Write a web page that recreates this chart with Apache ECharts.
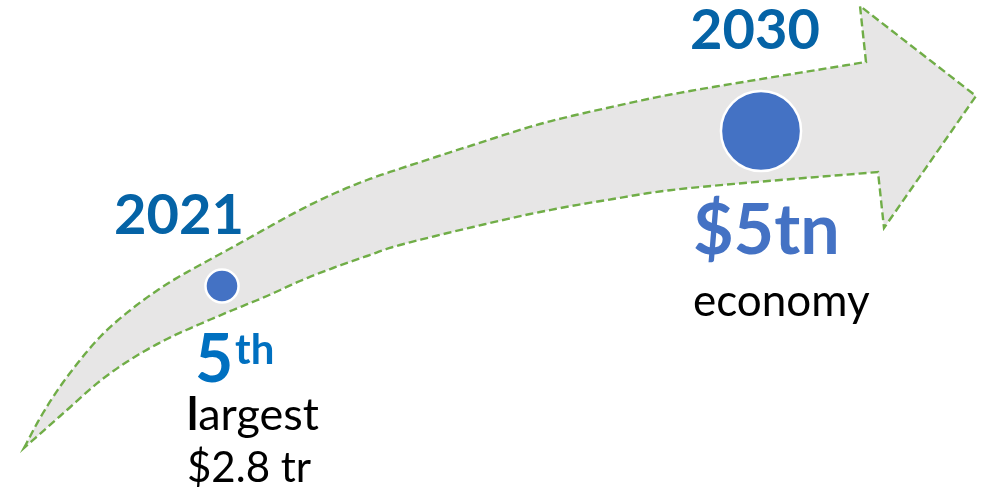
<!DOCTYPE html>
<html>
<head>
<meta charset="utf-8">
<script src="https://cdn.jsdelivr.net/npm/echarts@6/dist/echarts.min.js"></script>
<style>
html,body{margin:0;padding:0;background:#fff;}
#main{width:989px;height:490px;}
</style>
</head>
<body>
<div id="main"></div>
<script>
// ---- data ----
const years = [2021, 2030];
const gdpTrillion = [2.8, 5];
const yearLabels = ['2021', '2030'];
const headlines = ['5', '$5tn'];
const headlineSup = ['th', ''];
const captionLines = [['largest', '$2.8 tr'], ['economy']];

// ---- arrow decoration (pixel outline) ----
const upperEdge = [[24,448],[43,413],[67,377],[100,337],[133,308],[167,284],[200,265],[233,247],[267,228],[300,210],[333,194],[367,180],[405,167],[473,145],[540,124],[607,108],[690,91],[866,62]];
const lowerEdge = [[24,448],[67,410],[100,381],[133,358],[167,339],[200,324],[233,310],[267,296],[300,281],[333,268],[367,256],[400,245],[473,227],[540,212],[607,200],[690,188],[878,172]];
const headPts = [[860,6],[976,96],[884,228]];

function crSample(pts, steps) {
  const out = [pts[0].slice()];
  for (let i = 0; i < pts.length - 1; i++) {
    const p0 = pts[Math.max(i - 1, 0)], p1 = pts[i], p2 = pts[i + 1], p3 = pts[Math.min(i + 2, pts.length - 1)];
    const c1 = [p1[0] + (p2[0] - p0[0]) / 6, p1[1] + (p2[1] - p0[1]) / 6];
    const c2 = [p2[0] - (p3[0] - p1[0]) / 6, p2[1] - (p3[1] - p1[1]) / 6];
    for (let s = 1; s <= steps; s++) {
      const t = s / steps, u = 1 - t;
      const a = u * u * u, b = 3 * u * u * t, c = 3 * u * t * t, d = t * t * t;
      out.push([a * p1[0] + b * c1[0] + c * c2[0] + d * p2[0], a * p1[1] + b * c1[1] + c * c2[1] + d * p2[1]]);
    }
  }
  return out;
}
const arrowPoints = crSample(upperEdge, 12)
  .concat(headPts)
  .concat(crSample(lowerEdge.slice().reverse(), 12));

const chart = echarts.init(document.getElementById('main'), null, {renderer: 'canvas'});
const FONT = 'Lato, "Open Sans", sans-serif';

chart.setOption({
  animation: false,
  backgroundColor: '#ffffff',
  grid: {left: 0, right: 0, top: 0, bottom: 0},
  xAxis: {type: 'value', min: 2017.2931, max: 2033.807, show: false},
  yAxis: {type: 'value', min: -0.0955, max: 6.8594, show: false},
  series: [{
    type: 'scatter', z: 5,
    data: years.map((y, i) => [y, gdpTrillion[i]]),
    symbol: 'circle',
    symbolSize: v => 21.4 * (v[1] - 1.255),
    itemStyle: {color: '#4472C4', borderColor: '#ffffff', borderWidth: 2.5, opacity: 1},
    label: {show: false}
  }]
});

// text placed relative to each data point
const pts = years.map((y, i) => chart.convertToPixel({seriesIndex: 0}, [y, gdpTrillion[i]]));
const g = [{
  type: 'polygon', z: -1,
  shape: {points: arrowPoints},
  style: {fill: '#E7E6E6', stroke: '#70AD47', lineWidth: 2.4, lineDash: [8, 4]}
}];
// 2021
const p0 = pts[0];
g.push({type: 'text', x: p0[0] - 43, y: p0[1] - 70, style: {text: yearLabels[0], font: 'bold 56px ' + FONT, fill: '#0563A6', align: 'center', verticalAlign: 'middle'}});
g.push({type: 'text', x: p0[0] - 27, y: p0[1] + 75, style: {text: headlines[0], font: 'bold 66px ' + FONT, fill: '#0070C0', align: 'left', verticalAlign: 'middle'}});
g.push({type: 'text', x: p0[0] + 13, y: p0[1] + 64, style: {text: headlineSup[0], font: 'bold 42px ' + FONT, fill: '#0070C0', align: 'left', verticalAlign: 'middle'}});
g.push({type: 'text', x: p0[0] - 35, y: p0[1] + 129, style: {
  text: '{b|' + captionLines[0][0].charAt(0) + '}{r|' + captionLines[0][0].slice(1) + '}',
  rich: {b: {font: 'bold 45px ' + FONT, fill: '#000'}, r: {font: '45px ' + FONT, fill: '#000'}},
  align: 'left', verticalAlign: 'middle'}});
g.push({type: 'text', x: p0[0] - 35, y: p0[1] + 182, style: {text: captionLines[0][1], font: '42px ' + FONT, fill: '#000', align: 'left', verticalAlign: 'middle'}});
// 2030
const p1 = pts[1];
g.push({type: 'text', x: p1[0] - 6, y: p1[1] - 100, style: {text: yearLabels[1], font: 'bold 56px ' + FONT, fill: '#0563A6', align: 'center', verticalAlign: 'middle'}});
g.push({type: 'text', x: p1[0] - 68, y: p1[1] + 100, style: {text: headlines[1], font: 'bold 70px ' + FONT, fill: '#4472C4', align: 'left', verticalAlign: 'middle'}});
g.push({type: 'text', x: p1[0] - 68, y: p1[1] + 171, style: {text: captionLines[1][0], font: '44px ' + FONT, fill: '#000', align: 'left', verticalAlign: 'middle'}});

chart.setOption({graphic: g.map((e, i) => Object.assign({id: 'g' + i, z: e.z == null ? 10 : e.z}, e))});
</script>
</body>
</html>
